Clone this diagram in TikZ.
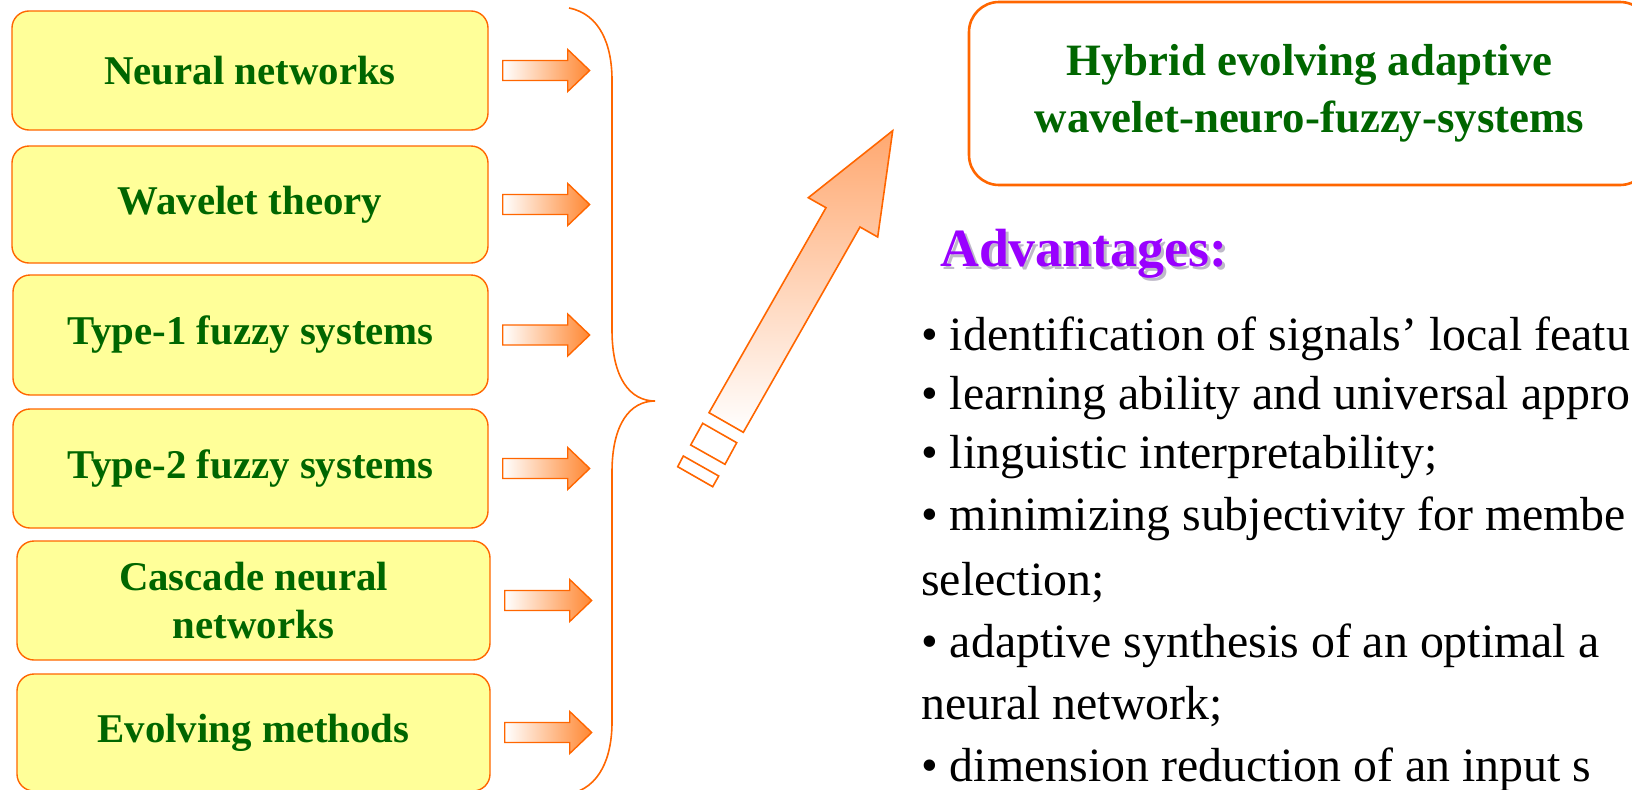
\documentclass[tikz,border=0pt]{standalone}
\usepackage{fontspec}
\setmainfont{Liberation Serif}
\usetikzlibrary{calc}

\definecolor{edgeorange}{RGB}{255,102,0}
\definecolor{boxyellow}{RGB}{255,255,153}
\definecolor{titlegreen}{RGB}{0,102,0}
\definecolor{advpurple}{RGB}{153,0,255}
\definecolor{advshade}{RGB}{190,185,200}
\definecolor{arroworange}{RGB}{255,135,50}
\definecolor{bigorange}{RGB}{255,168,112}

% heading text with a soft drop shadow behind it
\newcommand{\shadowedword}[1]{%
  \makebox[0pt][l]{\hspace{3bp}\raisebox{-3bp}[0pt][0pt]{\textcolor{advshade}{#1}}}%
  \textcolor{advpurple}{#1}}

\begin{document}
\begin{tikzpicture}[x=1bp,y=-1bp,
  srcbox/.style={draw=edgeorange, line width=1.4pt, fill=boxyellow,
    rounded corners=17bp, text=titlegreen, align=center, inner sep=0pt,
    minimum width=476bp, minimum height=119bp,
    font=\bfseries\fontsize{41}{49}\selectfont},
  blockarrow/.style={draw=edgeorange, line width=1.4pt, line join=miter,
    left color=white, right color=arroworange},
  headbox/.style={draw=edgeorange, line width=2.6pt, fill=white,
    rounded corners=30bp, text=titlegreen, align=center, inner sep=0pt,
    font=\bfseries\fontsize{45}{57}\selectfont},
  advtext/.style={anchor=base west, inner sep=0pt,
    font=\bfseries\fontsize{54}{60}\selectfont},
  bullettext/.style={anchor=base west, inner sep=0pt,
    font=\fontsize{48}{58}\selectfont},
  bracestyle/.style={draw=edgeorange, line width=1.6pt},
  bigarrow/.style={draw=edgeorange, line width=1.6pt, line join=miter,
    top color=bigorange, bottom color=white},
  stripe/.style={draw=edgeorange, line width=1.6pt, fill=white}]

\useasboundingbox (0,0) rectangle (1632,790);
\clip (0,0) rectangle (1632,790);

% source boxes
\node[srcbox] (b1) at (250,70.5) {Neural networks};
\node[srcbox, minimum height=117bp] (b2) at (250,204.5) {Wavelet theory};
\node[srcbox, minimum width=475bp, minimum height=120bp] (b3) at (250.5,335) {Type-1 fuzzy systems};
\node[srcbox, minimum width=475bp] (b4) at (250.5,468.5) {Type-2 fuzzy systems};
\node[srcbox, minimum width=473bp] (b5) at (253.5,600.5) {Cascade neural\\networks};
\node[srcbox, minimum width=473bp, minimum height=117bp] (b6) at (253.5,732.5) {Evolving methods};

% block arrows next to each box
\foreach \b in {b1,b2,b3,b4,b5,b6}{
  \begin{scope}[shift={($(\b.east)+(14,0)$)}]
    \draw[blockarrow] (0,-10) -- (65,-10) -- (65,-21) -- (87,0)
      -- (65,21) -- (65,10) -- (0,10) -- cycle;
  \end{scope}
}

% curly brace gathering the inputs
\draw[bracestyle] (569,8) .. controls (600,14) and (612,45) .. (612,80)
  -- (612,330) .. controls (612,378) and (630,401) .. (655,401)
  .. controls (630,401) and (612,424) .. (612,472)
  -- (612,722) .. controls (612,757) and (600,788) .. (569,794);

% large arrow towards the hybrid system
\coordinate (tip) at (892.7,130.7);
\draw[bigarrow] (tip) -- (808.3,197.7) -- (826,207.7) -- (709,412.7)
  -- (743.3,432.3) -- (860,227) -- (877.7,237) -- cycle;
\draw[stripe] (702.7,423.3) -- (736.7,442.7) -- (725,464.3) -- (690.7,445) -- cycle;
\draw[stripe] (683.3,456) -- (718.7,476) -- (712.7,486.7) -- (677.7,466.7) -- cycle;

% resulting system
\node[headbox, minimum width=681bp, minimum height=183bp] (hyb) at (1309.5,93.5)
  {Hybrid evolving adaptive\\wavelet-neuro-fuzzy-systems};

% advantages heading
\node[advtext] (adv) at (940,266.7) {\shadowedword{Advantages:}};

% list of advantages
\node[bullettext] (l1) at (921,350) {\textbullet{} identification of signals’ local featu};
\node[bullettext] (l2) at (921,409) {\textbullet{} learning ability and universal appro};
\node[bullettext] (l3) at (921,468) {\textbullet{} linguistic interpretability;};
\node[bullettext] (l4) at (921,530) {\textbullet{} minimizing subjectivity for membe};
\node[bullettext] (l4b) at (921,595) {selection;};
\node[bullettext] (l5) at (921,657) {\textbullet{} adaptive synthesis of an optimal a};
\node[bullettext] (l5b) at (921,719) {neural network;};
\node[bullettext] (l6) at (921,781) {\textbullet{} dimension reduction of an input s};

\end{tikzpicture}
\end{document}
